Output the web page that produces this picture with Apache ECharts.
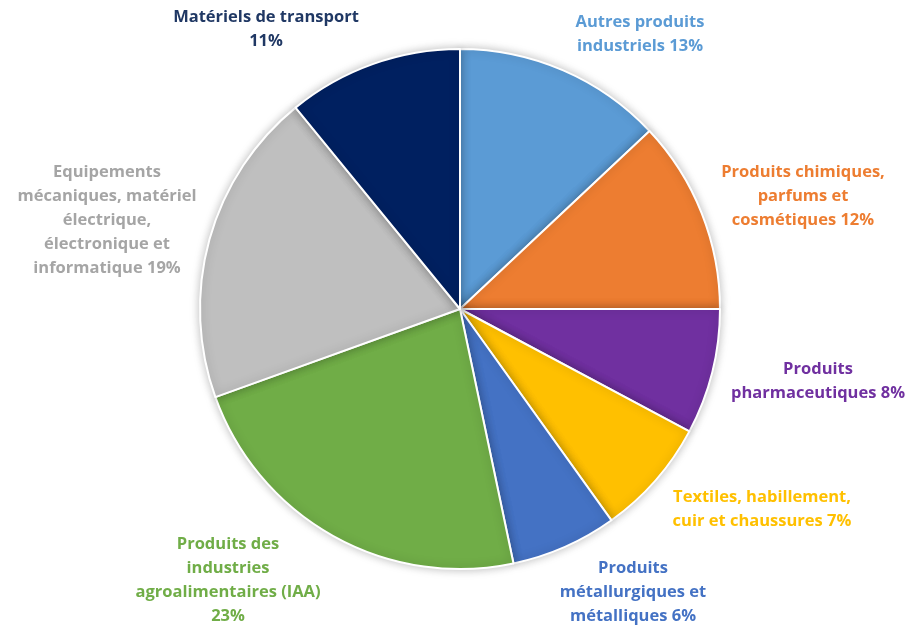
<!DOCTYPE html>
<html>
<head>
<meta charset="utf-8">
<script src="https://cdn.jsdelivr.net/npm/echarts@6/dist/echarts.min.js"></script>
<style>
  html, body { margin: 0; padding: 0; background: #fff; }
  #chart { width: 909px; height: 628px; }
</style>
</head>
<body>
<div id="chart"></div>
<script>
// slices, clockwise from 12 o'clock
const categories = [
  'Autres produits\nindustriels',
  'Produits chimiques,\nparfums et\ncosmétiques',
  'Produits\npharmaceutiques',
  'Textiles, habillement,\ncuir et chaussures',
  'Produits\nmétallurgiques et\nmétalliques',
  'Produits des\nindustries\nagroalimentaires (IAA)',
  'Equipements\nmécaniques, matériel\nélectrique,\nélectronique et\ninformatique',
  'Matériels de transport'
];
// shares
const shares = [13.0, 12.0, 7.8, 7.3, 6.6, 22.8, 19.6, 10.9];
// percentages as printed on the labels
const shownPct = [13, 12, 8, 7, 6, 23, 19, 11];
const pctSep = [' ', ' ', ' ', ' ', ' ', '\n', ' ', '\n'];

const sliceColors = ['#5B9BD5', '#ED7D31', '#7030A0', '#FFC000', '#4472C4', '#70AD47', '#BFBFBF', '#002060'];
const textColors  = ['#5B9BD5', '#ED7D31', '#7030A0', '#FFC000', '#4472C4', '#70AD47', '#A5A5A5', '#203864'];
// label centres (px), placed like the original outside-end labels
const labelPos = [[640, 34], [803, 196], [818, 381], [762, 509], [633, 592], [228, 580], [107, 220], [266, 29]];

const chart = echarts.init(document.getElementById('chart'), null, { renderer: 'canvas' });

const option = {
  animation: false,
  series: [{
    type: 'pie',
    center: [460, 309],
    radius: 260,
    startAngle: 90,
    clockwise: true,
    avoidLabelOverlap: false,
    data: categories.map((c, i) => ({
      name: c,
      value: shares[i],
      itemStyle: { color: sliceColors[i] },
      label: { color: textColors[i] }
    })),
    itemStyle: {
      borderColor: '#fff', borderWidth: 2,
      shadowBlur: 10, shadowColor: 'rgba(0,0,0,0.25)'
    },
    label: {
      show: true,
      position: 'outside',
      fontFamily: 'Open Sans',
      fontWeight: 'bold',
      fontSize: 16.5,
      lineHeight: 24,
      formatter: p => p.name + pctSep[p.dataIndex] + shownPct[p.dataIndex] + '%'
    },
    labelLine: { show: false },
    labelLayout: params => ({
      x: labelPos[params.dataIndex][0],
      y: labelPos[params.dataIndex][1],
      align: 'center',
      verticalAlign: 'middle'
    }),
    emphasis: { disabled: true }
  }]
};

chart.setOption(option);
</script>
</body>
</html>
